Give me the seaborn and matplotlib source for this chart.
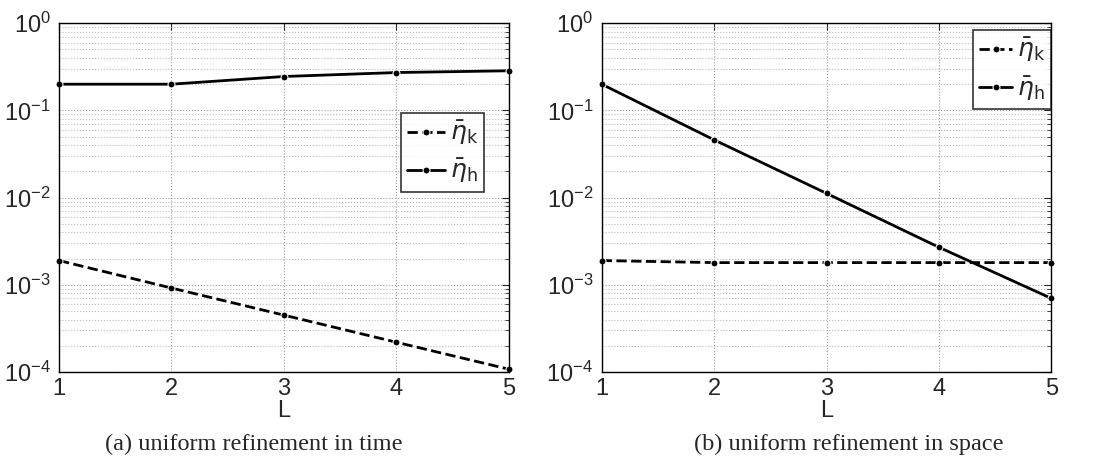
import numpy as np
import pandas as pd
import matplotlib
matplotlib.use("Agg")
import matplotlib.pyplot as plt
import seaborn as sns
from matplotlib.ticker import LogLocator, NullFormatter

# levels
L = [1, 2, 3, 4, 5]

# (a) uniform refinement in time
time_eta_k = [0.0019, 0.00092, 0.00045, 0.00022, 0.000108]
time_eta_h = [0.2, 0.2, 0.245, 0.272, 0.285]

# (b) uniform refinement in space
space_eta_k = [0.0019, 0.0018, 0.0018, 0.0018, 0.0018]
space_eta_h = [0.2, 0.046, 0.0112, 0.0027, 0.0007]

captions = ["(a) uniform refinement in time", "(b) uniform refinement in space"]

sns.set_style("white")
plt.rcParams['font.family'] = ['Liberation Sans', 'DejaVu Sans']
plt.rcParams['mathtext.fontset'] = 'dejavusans'

fig = plt.figure(figsize=(10.94, 4.74), dpi=100)
ax1 = fig.add_axes([0.054, 0.215, 0.411, 0.736])
ax2 = fig.add_axes([0.550, 0.215, 0.411, 0.736])

def draw(ax, eta_k, eta_h, caption, cap_x, legkw):
    df = pd.DataFrame({"L": L * 2,
                       "val": eta_k + eta_h,
                       "est": ["k"] * 5 + ["h"] * 5})
    sns.lineplot(data=df[df.est == "k"], x="L", y="val", ax=ax, color="black",
                 linestyle="--", marker="o", markersize=5, linewidth=2,
                 label=r"$\bar{\eta}_\mathrm{k}$")
    sns.lineplot(data=df[df.est == "h"], x="L", y="val", ax=ax, color="black",
                 linestyle="-", marker="o", markersize=5, linewidth=2,
                 label=r"$\bar{\eta}_\mathrm{h}$")
    for ln in ax.get_lines():
        ln.set_clip_on(False)
    ax.set_yscale("log")
    ax.set_ylim(1e-4, 1)
    ax.set_xlim(1, 5)
    ax.set_xticks(L)
    ax.yaxis.set_major_locator(LogLocator(base=10, numticks=10))
    ax.yaxis.set_minor_locator(LogLocator(base=10, subs=np.arange(2, 10), numticks=20))
    ax.yaxis.set_minor_formatter(NullFormatter())
    ax.grid(True, which="major", axis="both", linestyle=":", color="#999999", linewidth=0.8)
    ax.grid(True, which="minor", axis="y", linestyle=":", color="#bbbbbb", linewidth=0.8)
    ax.tick_params(axis="both", which="both", direction="in", labelsize=17,
                   top=True, right=True)
    ax.tick_params(axis="both", which="major", length=5)
    ax.tick_params(axis="y", which="minor", length=3)
    ax.tick_params(axis="x", pad=4)
    ax.tick_params(axis="y", pad=6)
    for sp in ax.spines.values():
        sp.set_color("black")
        sp.set_linewidth(1.0)
    ax.set_xlabel("L", fontsize=17, labelpad=0)
    ax.set_ylabel("")
    leg = ax.legend(fontsize=18, frameon=True, fancybox=False, edgecolor="black",
                    handletextpad=0.2, borderpad=0.25, labelspacing=0.4,
                    borderaxespad=0, **legkw)
    leg.get_frame().set_linewidth(1.2)
    fig.text(cap_x, 0.063, caption, ha="center", va="center",
             fontsize=17.5, family=["Liberation Serif", "DejaVu Serif"])

draw(ax1, time_eta_k, time_eta_h, captions[0], 0.232,
     dict(loc="center", bbox_to_anchor=(0.853, 0.63), handlelength=1.5))
draw(ax2, space_eta_k, space_eta_h, captions[1], 0.776,
     dict(loc="upper right", bbox_to_anchor=(1.0, 0.98), handlelength=1.3))

fig.savefig("out.png", dpi=100)
